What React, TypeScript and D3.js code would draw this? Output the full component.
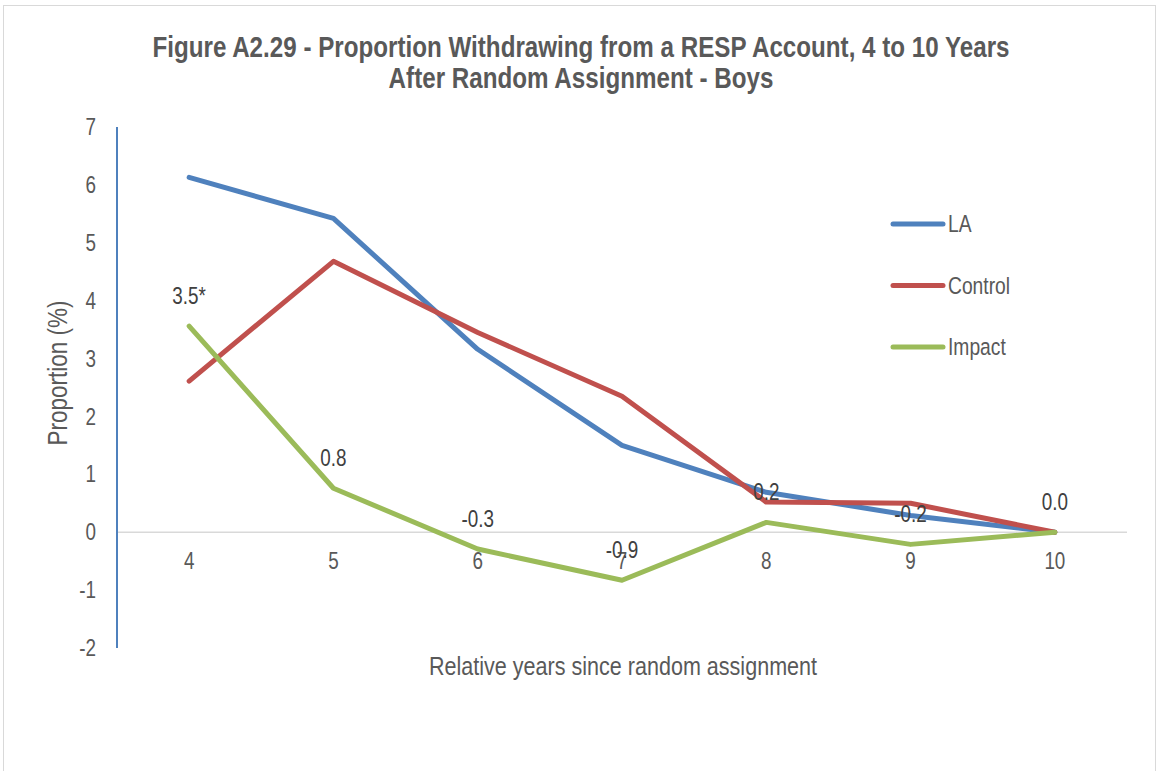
import React from "react";
import * as d3 from "d3";

const categories = ["4", "5", "6", "7", "8", "9", "10"];
const laValues = [6.13, 5.42, 3.16, 1.5, 0.69, 0.29, 0.0];
const controlValues = [2.61, 4.68, 3.45, 2.35, 0.52, 0.5, 0.0];
const impactValues = [3.56, 0.76, -0.29, -0.83, 0.17, -0.21, 0.0];
const impactLabels = ["3.5*", "0.8", "-0.3", "-0.9", "0.2", "-0.2", "0.0"];
const yTicks = [7, 6, 5, 4, 3, 2, 1, 0, -1, -2];
const seriesNames = ["LA", "Control", "Impact"];
const seriesColors = ["#4F81BD", "#C0504D", "#9BBB59"];
const titleLines = [
  "Figure A2.29 - Proportion Withdrawing from a RESP Account, 4 to 10 Years",
  "After Random Assignment - Boys",
];

const FONT = "'Liberation Sans', Arial, sans-serif";
const NARROW = 0.82;

function T(props: {
  x: number;
  y: number;
  size: number;
  anchor?: string;
  fill?: string;
  bold?: boolean;
  rotate?: number;
  children: React.ReactNode;
}) {
  const { x, y, size, anchor = "start", fill = "#595959", bold, rotate = 0, children } = props;
  return (
    <text
      transform={`translate(${x},${y}) rotate(${rotate}) scale(${NARROW},1)`}
      textAnchor={anchor}
      dy="0.35em"
      fontSize={size}
      fontWeight={bold ? "bold" : "normal"}
      fill={fill}
    >
      {children}
    </text>
  );
}

export default function App() {
  const W = 1160, H = 771;
  const left = 117, right = 1127, top = 127, bottom = 648;
  const x = d3.scaleBand<string>().domain(categories).range([left, right]);
  const y = d3.scaleLinear().domain([-2, 7]).range([bottom, top]);
  const cx = (c: string) => (x(c) as number) + x.bandwidth() / 2;
  const line = d3
    .line<number>()
    .x((_, i) => cx(categories[i]))
    .y((d) => y(d));
  const series = [laValues, controlValues, impactValues];

  return (
    <svg width={W} height={H} style={{ position: "absolute", left: 0, top: 0 }} fontFamily={FONT}>
      <rect x={0} y={0} width={W} height={H} fill="#fff" />
      <rect x={3.5} y={5.5} width={1152} height={780} fill="#fff" stroke="#d9d9d9" strokeWidth={1} />
      {titleLines.map((t, i) => (
        <T key={i} x={581} y={47 + i * 31} size={29.5} anchor="middle" bold>
          {t}
        </T>
      ))}
      <line x1={left} x2={right} y1={y(0)} y2={y(0)} stroke="#d9d9d9" strokeWidth={1.5} />
      <line x1={left} x2={left} y1={top} y2={bottom} stroke="#4F81BD" strokeWidth={2} />
      {yTicks.map((t) => (
        <T key={t} x={96} y={y(t)} size={23} anchor="end">
          {t}
        </T>
      ))}
      {categories.map((c) => (
        <T key={c} x={cx(c)} y={y(0) + 29} size={23} anchor="middle">
          {c}
        </T>
      ))}
      <T x={57} y={373} size={27.5} anchor="middle" rotate={-90}>
        Proportion (%)
      </T>
      <T x={623} y={666} size={26.3} anchor="middle">
        Relative years since random assignment
      </T>
      {series.map((s, i) => (
        <path
          key={seriesNames[i]}
          d={line(s) as string}
          fill="none"
          stroke={seriesColors[i]}
          strokeWidth={5}
          strokeLinecap="round"
          strokeLinejoin="round"
        />
      ))}
      {impactValues.map((v, i) => (
        <T key={i} x={cx(categories[i])} y={y(v) - 30} size={23} anchor="middle" fill="#404040">
          {impactLabels[i]}
        </T>
      ))}
      {seriesNames.map((n, i) => (
        <g key={n}>
          <line
            x1={893}
            x2={943}
            y1={224 + i * 61.5}
            y2={224 + i * 61.5}
            stroke={seriesColors[i]}
            strokeWidth={5}
            strokeLinecap="round"
          />
          <T x={948} y={224 + i * 61.5} size={23.5}>
            {n}
          </T>
        </g>
      ))}
    </svg>
  );
}
